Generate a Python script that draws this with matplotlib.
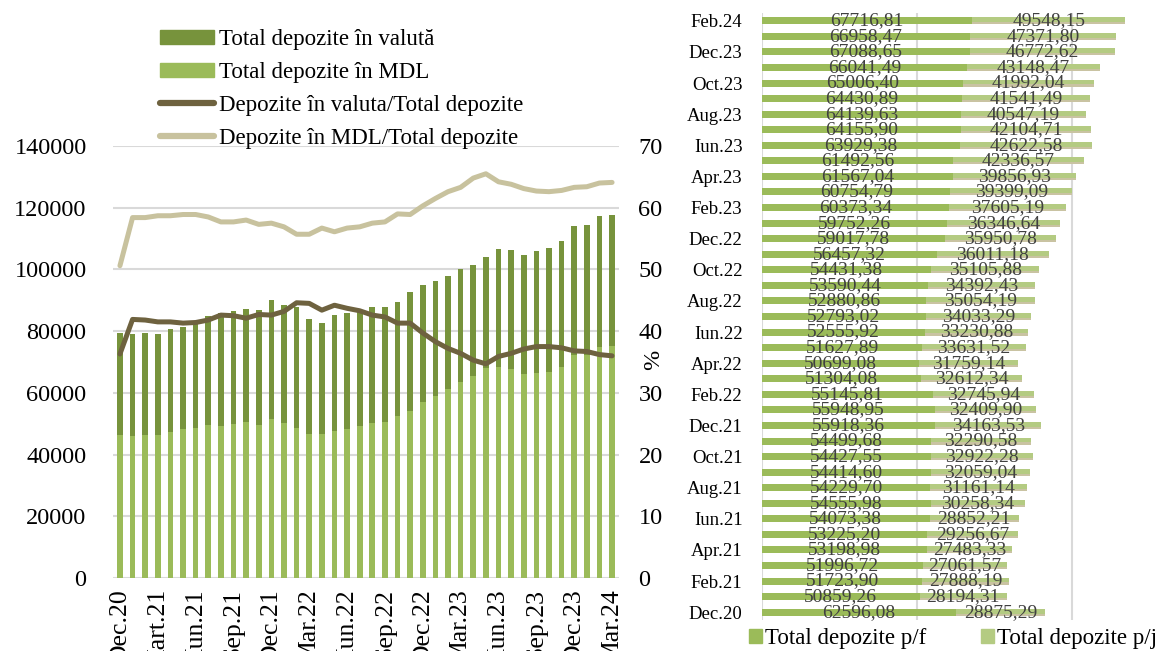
import numpy as np
import matplotlib
matplotlib.use("Agg")
import matplotlib.pyplot as plt
from matplotlib.patches import Patch
from matplotlib.lines import Line2D

plt.rcParams['font.family'] = ['Liberation Serif', 'DejaVu Serif']

# ---- left panel data (Dec.20 - Mar.24) ----
months_left = ['Dec.20', 'Ian.21', 'Feb.21', 'Mart.21', 'Apr.21', 'Mai.21', 'Iun.21', 'Iul.21',
               'Aug.21', 'Sep.21', 'Oct.21', 'Nov.21', 'Dec.21', 'Ian.22', 'Feb.22', 'Mar.22',
               'Apr.22', 'Mai.22', 'Iun.22', 'Iul.22', 'Aug.22', 'Sep.22', 'Oct.22', 'Nov.22',
               'Dec.22', 'Ian.23', 'Feb.23', 'Mar.23', 'Apr.23', 'Mai.23', 'Iun.23', 'Iul.23',
               'Aug.23', 'Sep.23', 'Oct.23', 'Nov.23', 'Dec.23', 'Ian.24', 'Feb.24', 'Mar.24']
dep_total = [79500, 79000, 79500, 79000, 80700, 81400, 82200, 84900, 85800, 86500,
             87300, 86700, 90000, 88500, 87900, 83900, 82500, 85300, 85800, 86800,
             87900, 87900, 89500, 92600, 94900, 96200, 98000, 100100, 101400, 103900,
             106600, 106300, 104800, 106000, 107000, 109200, 114100, 114400, 117400, 117600]
dep_mdl = [46300, 46000, 46300, 46300, 47200, 48300, 48700, 49600, 49400, 49900,
           50600, 49700, 51600, 50100, 48700, 46700, 46700, 47700, 48400, 49400,
           50300, 50700, 52500, 54200, 57100, 59000, 61200, 63500, 65600, 67900,
           68500, 67700, 66000, 66500, 66900, 68500, 72300, 72300, 75000, 75300]
dep_valuta = [t - m for t, m in zip(dep_total, dep_mdl)]
share_valuta = [36.3, 41.9, 41.8, 41.5, 41.5, 41.3, 41.4, 41.8, 42.6, 42.5,
                42.1, 42.7, 42.6, 43.2, 44.6, 44.5, 43.4, 44.2, 43.7, 43.3,
                42.6, 42.3, 41.3, 41.3, 39.7, 38.3, 37.2, 36.4, 35.3, 34.7,
                35.9, 36.4, 37.1, 37.5, 37.5, 37.3, 36.8, 36.7, 36.2, 36.0]
share_mdl = [50.6, 58.4, 58.4, 58.7, 58.7, 58.9, 58.9, 58.5, 57.7, 57.7,
             58.0, 57.3, 57.5, 56.9, 55.7, 55.7, 56.7, 56.1, 56.7, 56.9,
             57.5, 57.7, 59.0, 58.9, 60.3, 61.5, 62.6, 63.3, 64.8, 65.5,
             64.2, 63.8, 63.1, 62.7, 62.6, 62.8, 63.3, 63.4, 64.0, 64.1]

# ---- right panel data (Dec.20 - Feb.24) ----
months_right = ['Dec.20', 'Ian.21', 'Feb.21', 'Mar.21', 'Apr.21', 'Mai.21', 'Iun.21', 'Iul.21',
                'Aug.21', 'Sep.21', 'Oct.21', 'Nov.21', 'Dec.21', 'Ian.22', 'Feb.22', 'Mar.22',
                'Apr.22', 'Mai.22', 'Iun.22', 'Iul.22', 'Aug.22', 'Sep.22', 'Oct.22', 'Nov.22',
                'Dec.22', 'Ian.23', 'Feb.23', 'Mar.23', 'Apr.23', 'Mai.23', 'Iun.23', 'Iul.23',
                'Aug.23', 'Sep.23', 'Oct.23', 'Nov.23', 'Dec.23', 'Ian.24', 'Feb.24']
dep_pf = [62596.08, 50859.26, 51723.90, 51996.72, 53198.98, 53225.20, 54073.38, 54555.98,
          54229.70, 54414.60, 54427.55, 54499.68, 55918.36, 55948.95, 55145.81, 51304.08,
          50699.08, 51627.89, 52555.92, 52793.02, 52880.86, 53590.44, 54431.38, 56457.32,
          59017.78, 59752.26, 60373.34, 60754.79, 61567.04, 61492.56, 63929.38, 64155.90,
          64139.63, 64430.89, 65006.40, 66041.49, 67088.65, 66958.47, 67716.81]
dep_pj = [28875.29, 28194.31, 27888.19, 27061.57, 27483.33, 29256.67, 28852.21, 30258.34,
          31161.14, 32059.04, 32922.28, 32290.58, 34163.53, 32409.90, 32745.94, 32612.34,
          31759.14, 33631.52, 33230.88, 34033.29, 35054.19, 34392.43, 35105.88, 36011.18,
          35950.78, 36346.64, 37605.19, 39399.09, 39856.93, 42336.57, 42622.58, 42104.71,
          40547.19, 41541.49, 41992.04, 43148.47, 46772.62, 47371.80, 49548.15]

c_valuta = '#77933C'
c_mdl = '#9BBB59'
c_line_val = '#6E623F'
c_line_mdl = '#C8C29E'
c_pj = '#B4CB82'
c_pj_edge = '#C9C3A2'
grid_c = '#D9D9D9'

fig = plt.figure(figsize=(11.68, 6.51), dpi=100)

# ---------------- left chart ----------------
ax = fig.add_axes([113 / 1168, 73 / 651, 506 / 1168, 432 / 651])
x = np.arange(len(months_left))
ax.bar(x, dep_mdl, width=0.45, color=c_mdl, zorder=2)
ax.bar(x, dep_valuta, width=0.45, bottom=dep_mdl, color=c_valuta, zorder=2)
ax.set_ylim(0, 140000)
ax.set_xlim(-0.55, len(x) - 0.45)
ax.set_yticks(np.arange(0, 140001, 20000))
ax.yaxis.grid(True, color=grid_c, lw=1.5)
ax.set_axisbelow(True)
ax.set_xticks(x[::3])
ax.set_xticklabels(months_left[::3], rotation=90, va='top', fontsize=18.5)
ax.tick_params(axis='both', length=0)
ax.tick_params(axis='y', labelsize=17.5, pad=19)
ax.tick_params(axis='x', pad=8)
for s in ax.spines.values():
    s.set_visible(False)

ax2 = ax.twinx()
ax2.plot(x, share_valuta, color=c_line_val, lw=3.6, solid_capstyle='round', solid_joinstyle='round')
ax2.plot(x, share_mdl, color=c_line_mdl, lw=3.6, solid_capstyle='round', solid_joinstyle='round')
ax2.set_ylim(0, 70)
ax2.set_yticks(np.arange(0, 71, 10))
ax2.tick_params(axis='y', length=0, labelsize=17.5, pad=14)
ax2.set_ylabel('%', fontsize=17.5)
ax2.yaxis.set_label_coords(1 + 24 / 506, (578 - 360) / 432)
for s in ax2.spines.values():
    s.set_visible(False)

handles = [
    Patch(color=c_valuta, label='Total depozite în valută'),
    Patch(color=c_mdl, label='Total depozite în MDL'),
    Line2D([], [], color=c_line_val, lw=4.5, solid_capstyle='round', label='Depozite în valuta/Total depozite'),
    Line2D([], [], color=c_line_mdl, lw=4.5, solid_capstyle='round', label='Depozite în MDL/Total depozite'),
]
fig.legend(handles=handles, loc='upper left', bbox_to_anchor=(160 / 1168, 1 - 29 / 651),
           frameon=False, fontsize=16.5, handlelength=2.35, handleheight=0.55,
           handletextpad=0.22, labelspacing=0.52, borderpad=0, borderaxespad=0)

# ---------------- right chart ----------------
axr = fig.add_axes([762 / 1168, 31 / 651, 406 / 1168, 607 / 651])
y = np.arange(len(months_right))
bh = 0.45
axr.barh(y, dep_pf, height=bh, color=c_mdl, zorder=2)
axr.barh(y, dep_pj, height=bh, left=dep_pf, color=c_pj, zorder=2)
axr.barh(y - bh * 0.35, dep_pj, height=bh * 0.3, left=dep_pf, color=c_pj_edge, zorder=2)
for yi, a, b in zip(y, dep_pf, dep_pj):
    axr.text(a / 2, yi, f'{a:.2f}'.replace('.', ','), ha='center', va='center',
             fontsize=14, color='#404040', zorder=3)
    axr.text(a + b / 2, yi, f'{b:.2f}'.replace('.', ','), ha='center', va='center',
             fontsize=14, color='#404040', zorder=3)
axr.set_xlim(0, 131000)
axr.set_ylim(-0.5, len(y) - 0.5)
axr.set_xticks([0, 50000, 100000])
axr.xaxis.grid(True, color=grid_c, lw=1.5)
axr.set_axisbelow(True)
axr.set_xticklabels([])
axr.set_yticks(y[::2])
axr.set_yticklabels(months_right[::2])
axr.tick_params(axis='both', length=0, labelsize=13.5)
axr.tick_params(axis='y', pad=14)
for s in axr.spines.values():
    s.set_visible(False)

rhandles = [Patch(color=c_mdl, label='Total depozite p/f'),
            Patch(color=c_pj, label='Total depozite p/j')]
fig.legend(handles=rhandles, loc='upper left', bbox_to_anchor=(749 / 1168, 1 - 628 / 651),
           ncol=2, frameon=False, fontsize=16.5, handlelength=0.55, handleheight=0.55,
           handletextpad=0.15, columnspacing=2.4, borderpad=0, borderaxespad=0)

fig.savefig('out.png', dpi=100)
